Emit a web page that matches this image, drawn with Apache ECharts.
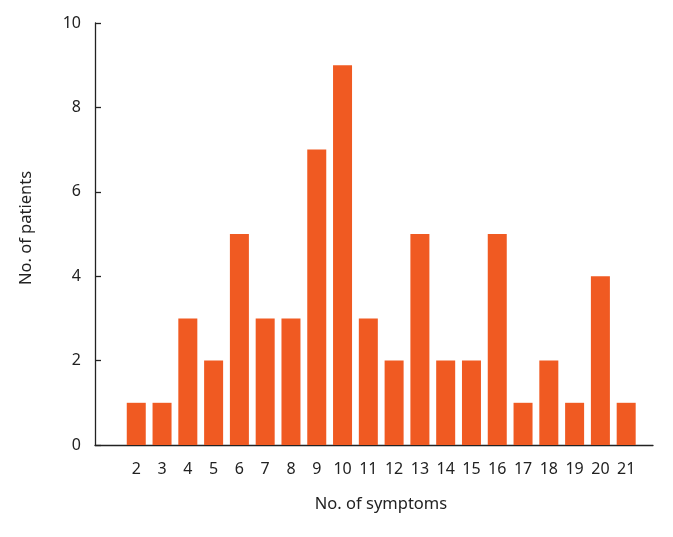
<!DOCTYPE html>
<html>
<head>
<meta charset="utf-8">
<script src="https://cdn.jsdelivr.net/npm/echarts@6/dist/echarts.min.js"></script>
<style>html,body{margin:0;padding:0;background:#fff}#c{width:673px;height:537px}</style>
</head>
<body>
<div id="c"></div>
<script>
const symptoms = [2,3,4,5,6,7,8,9,10,11,12,13,14,15,16,17,18,19,20,21];
const patients = [1,1,3,2,5,3,3,7,9,3,2,5,2,2,5,1,2,1,4,1];
const yTicks = [0,2,4,6,8,10];

const chart = echarts.init(document.getElementById('c'));
const font = '"Noto Sans", sans-serif';
chart.setOption({
  animation: false,
  grid: {left: 95, right: 20, top: 23, bottom: 92},
  xAxis: {
    type: 'value', min: 0.4, max: 22.04,
    name: 'No. of symptoms', nameLocation: 'middle', nameGap: 51,
    nameTextStyle: {fontSize: 16.5, color: '#222', fontFamily: font, padding: [0, 0, 0, 14]},
    axisLine: {show: true, lineStyle: {color: '#222', width: 1.3}},
    axisTick: {show: false},
    splitLine: {show: false},
    axisLabel: {customValues: symptoms, fontSize: 16, color: '#222', fontFamily: font, margin: 16}
  },
  yAxis: {
    type: 'value', min: 0, max: 10, interval: 2,
    name: 'No. of patients', nameLocation: 'middle', nameGap: 60,
    nameTextStyle: {fontSize: 16.5, color: '#222', fontFamily: font, padding: [0, 0, 0, 12]},
    axisLine: {show: true, lineStyle: {color: '#222', width: 1.3}},
    axisTick: {show: true, inside: true, length: 6, lineStyle: {color: '#222', width: 1.3}},
    splitLine: {show: false},
    axisLabel: {customValues: yTicks, fontSize: 16, color: '#222', fontFamily: font, margin: 14}
  },
  series: [{
    type: 'bar',
    data: symptoms.map((s, i) => [s, patients[i]]),
    barWidth: 19,
    itemStyle: {color: '#F05A22'}
  }]
});
</script>
</body>
</html>
